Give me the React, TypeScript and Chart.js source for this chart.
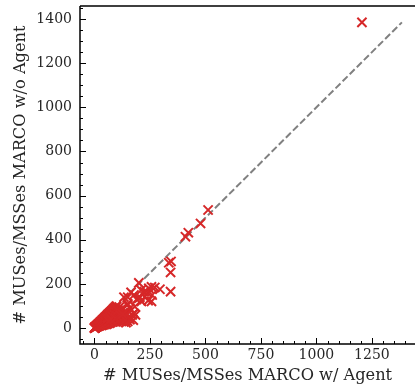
import React, { useEffect, useRef } from "react";
import { Chart, registerables } from "chart.js";

Chart.register(...registerables);

// Tick values
const xTicks = [0, 250, 500, 750, 1000, 1250];
const yTicks = [0, 200, 400, 600, 800, 1000, 1200, 1400];
const minorStep = 50;

// Axis ranges
const xMin = -65;
const xMax = 1444;
const yMin = -72;
const yMax = 1459;

// Axis titles
const xTitle = "# MUSes/MSSes MARCO w/ Agent";
const yTitle = "# MUSes/MSSes MARCO w/o Agent";

// Reference diagonal (y = x)
const diagonalEnds = [0, 1385];

// # MUSes/MSSes MARCO w/ Agent
const withAgent = [
  1205, 512, 478, 423, 410, 335, 345, 343, 343, 200, 165, 133, 182, 210, 228, 245, 257, 272, 295, 242, 257, 212,
  240, 260, 150, 160, 170, 175, 140, 155, 185, 190, 178, 150, 225, 205, 148, 178, 200,
  0, 1, 2, 2, 3, 3, 4, 4, 5, 5, 6, 6, 7, 8, 8, 9, 10, 10, 11, 12, 12, 13, 14, 15, 15, 16, 17, 18, 18, 19, 20, 20,
  21, 22, 23, 24, 25, 25, 26, 27, 28, 29, 30, 30, 31, 32, 33, 34, 35, 35, 36, 38, 38, 39, 40, 40, 41, 42, 43, 44,
  45, 45, 46, 48, 48, 49, 50, 50, 51, 52, 53, 54, 55, 55, 56, 58, 58, 59, 60, 60, 61, 62, 63, 64, 65, 66, 67, 68,
  68, 70, 70, 71, 72, 73, 74, 75, 76, 77, 78, 80, 80, 81, 82, 84, 85, 85, 86, 88, 88, 90, 90, 92, 92, 94, 95, 96,
  97, 98, 100, 100, 102, 104, 105, 106, 108, 110, 112, 113, 115, 118, 120, 122, 125, 128, 130, 132, 135, 138, 140,
  142, 145, 150, 155, 160,
  60, 70, 80, 90, 100, 110, 115, 125, 135, 145, 65, 75, 95, 105, 118, 128,
];

// # MUSes/MSSes MARCO w/o Agent
const withoutAgent = [
  1385, 535, 474, 432, 414, 296, 302, 252, 165, 205, 162, 140, 97, 172, 142, 180, 187, 184, 176, 124, 121, 121,
  160, 150, 110, 90, 60, 36, 70, 45, 60, 130, 150, 140, 165, 140, 104, 67, 135,
  0, 1, 1, 2, 2, 3, 2, 4, 3, 5, 4, 6, 5, 6, 8, 7, 6, 10, 9, 8, 12, 10, 9, 15, 11, 13, 10, 18, 14, 12, 20, 15,
  10, 18, 14, 24, 20, 12, 16, 22, 28, 18, 25, 14, 30, 20, 12, 28, 35, 22, 16, 30, 38, 24, 18, 40, 33, 26, 15, 44,
  36, 28, 20, 40, 48, 30, 22, 50, 42, 34, 17, 54, 45, 26, 36, 58, 48, 30, 20, 60, 40, 52, 25, 64, 34, 55, 44, 68,
  22, 58, 30, 48, 72, 38, 26, 62, 76, 50, 33, 80, 66, 42, 28, 84, 55, 70, 36, 88, 46, 74, 30, 92, 60, 40, 82, 96,
  52, 32, 100, 70, 45, 86, 60, 34, 75, 50, 95, 38, 65, 44, 80, 30, 55, 40, 70, 28, 48, 36, 60,
  25, 42, 30, 50, 38,
  45, 50, 55, 60, 55, 65, 80, 90, 70, 60, 30, 40, 45, 80, 58, 62,
];

const FONT = "'DejaVu Serif', serif";
const TEXT = "#262626";
const RED = "#d62728";

const axesPlugin = {
  id: "mplAxes",
  afterDraw(chart: any) {
    const { ctx, chartArea } = chart;
    const { left, right, top, bottom } = chartArea;
    const xs = chart.scales.x;
    const ys = chart.scales.y;
    ctx.save();
    // spines
    ctx.strokeStyle = "#000";
    ctx.lineWidth = 1.5;
    ctx.beginPath();
    ctx.moveTo(left, top);
    ctx.lineTo(left, bottom);
    ctx.lineTo(right + 2, bottom);
    ctx.moveTo(left, top);
    ctx.lineTo(right + 2, top);
    ctx.stroke();

    // inward ticks
    ctx.lineWidth = 1;
    ctx.beginPath();
    for (let v = Math.ceil(xMin / minorStep) * minorStep; v <= xMax; v += minorStep) {
      const major = xTicks.includes(v);
      const px = Math.round(xs.getPixelForValue(v)) + 0.5;
      ctx.moveTo(px, bottom);
      ctx.lineTo(px, bottom - (major ? 6 : 3));
    }
    for (let v = Math.ceil(yMin / minorStep) * minorStep; v <= yMax; v += minorStep) {
      const major = yTicks.includes(v);
      const py = Math.round(ys.getPixelForValue(v)) + 0.5;
      ctx.moveTo(left, py);
      ctx.lineTo(left + (major ? 6 : 3), py);
    }
    ctx.stroke();

    // tick labels
    ctx.fillStyle = TEXT;
    ctx.font = `14px ${FONT}`;
    ctx.textBaseline = "middle";
    ctx.textAlign = "center";
    for (const v of xTicks) {
      ctx.fillText(String(v), xs.getPixelForValue(v), bottom + 11);
    }
    ctx.textAlign = "right";
    for (const v of yTicks) {
      ctx.fillText(String(v), left - 8, ys.getPixelForValue(v));
    }

    // axis titles
    ctx.font = `16.2px ${FONT}`;
    ctx.textAlign = "center";
    ctx.fillText(xTitle, (left + right) / 2, bottom + 32);
    ctx.save();
    ctx.translate(21, (top + bottom) / 2);
    ctx.rotate(-Math.PI / 2);
    ctx.fillText(yTitle, 0, 0);
    ctx.restore();
    ctx.restore();
  },
};

export default function App() {
  const canvasRef = useRef<HTMLCanvasElement | null>(null);

  useEffect(() => {
    const canvas = canvasRef.current;
    if (!canvas) return;
    const points = withAgent.map((x, i) => ({ x, y: withoutAgent[i] }));
    const chart = new Chart(canvas, {
      type: "scatter",
      data: {
        datasets: [
          {
            type: "scatter",
            data: points,
            pointStyle: "crossRot",
            pointRadius: 6.5,
            pointBorderWidth: 2,
            borderColor: RED,
            backgroundColor: RED,
            order: 0,
          } as any,
          {
            type: "line",
            data: diagonalEnds.map((v) => ({ x: v, y: v })),
            borderColor: "#808080",
            borderWidth: 2,
            borderDash: [7, 3],
            pointRadius: 0,
            fill: false,
            order: 1,
          } as any,
        ],
      },
      options: {
        responsive: false,
        animation: false,
        layout: { autoPadding: false, padding: { top: 6, right: 0, left: 0, bottom: 0 } },
        plugins: { legend: { display: false }, tooltip: { enabled: false } },
        scales: {
          x: {
            type: "linear",
            min: xMin,
            max: xMax,
            grid: { display: false },
            border: { display: false },
            ticks: { display: false },
            title: { display: false },
            afterFit: (s: any) => {
              s.height = 41;
              s.paddingLeft = 0;
              s.paddingRight = 0;
            },
            afterBuildTicks: (s: any) => {
              s.ticks = xTicks.map((value) => ({ value }));
            },
          },
          y: {
            type: "linear",
            min: yMin,
            max: yMax,
            grid: { display: false },
            border: { display: false },
            ticks: { display: false },
            title: { display: false },
            afterFit: (s: any) => {
              s.width = 80;
              s.paddingTop = 0;
              s.paddingBottom = 0;
            },
            afterBuildTicks: (s: any) => {
              s.ticks = yTicks.map((value) => ({ value }));
            },
          },
        },
      },
      plugins: [axesPlugin],
    });
    return () => chart.destroy();
  }, []);

  return (
    <div style={{ position: "absolute", left: 0, top: 0, width: 415, height: 385, overflow: "hidden", background: "#fff" }}>
      <canvas ref={canvasRef} width={415} height={385} style={{ display: "block" }} />
    </div>
  );
}
